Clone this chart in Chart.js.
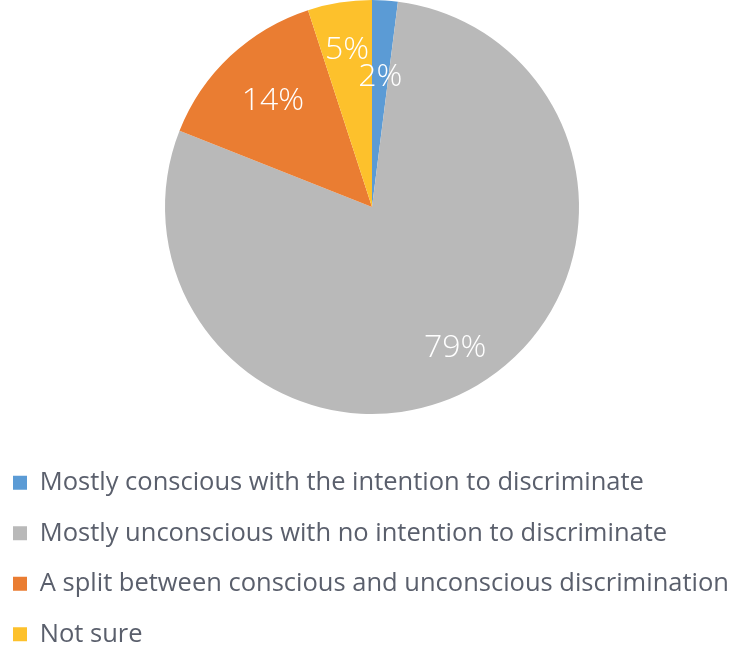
<!DOCTYPE html>
<html>
<head>
<meta charset="utf-8">
<script src="https://cdn.jsdelivr.net/npm/chart.js@4.4.0/dist/chart.umd.min.js"></script>
<style>
  html, body { margin: 0; padding: 0; background: #ffffff; }
  #wrap { width: 744px; height: 654px; }
</style>
</head>
<body>
<div id="wrap"><canvas id="pieChart"></canvas></div>
<script>
// Survey answers and their shares (%)
const categories = [
    "Mostly conscious with the intention to discriminate",
    "Mostly unconscious with no intention to discriminate",
    "A split between conscious and unconscious discrimination",
    "Not sure"
];
const shares = [2, 79, 14, 5];
const sliceColors = ["#5b9bd5", "#b9b9b9", "#ea7d32", "#fdc12c"];
// how far out (fraction of radius) each percent label sits
const labelRadius = [0.63, 0.79, 0.7, 0.77];

// Draw the percent labels inside the slices
const percentLabels = {
    id: "percentLabels",
    afterDatasetsDraw(chart) {
        const ctx = chart.ctx;
        const meta = chart.getDatasetMeta(0);
        ctx.save();
        ctx.font = "300 32px 'Open Sans'";
        ctx.fillStyle = "#ffffff";
        ctx.textAlign = "center";
        ctx.textBaseline = "middle";
        meta.data.forEach((arc, i) => {
            const p = arc.getProps(["x", "y", "startAngle", "endAngle", "outerRadius"], true);
            const mid = (p.startAngle + p.endAngle) / 2;
            const r = p.outerRadius * labelRadius[i];
            ctx.fillText(shares[i] + "%", p.x + Math.cos(mid) * r, p.y + Math.sin(mid) * r);
        });
        ctx.restore();
    }
};

new Chart(document.getElementById("pieChart").getContext("2d"), {
    type: "pie",
    data: {
        labels: categories,
        datasets: [{
            data: shares,
            backgroundColor: sliceColors,
            borderWidth: 0
        }]
    },
    options: {
        responsive: true,
        maintainAspectRatio: false,
        animation: false,
        layout: { padding: { top: 0, left: -12, right: -8, bottom: -3 } },
        plugins: {
            tooltip: { enabled: false },
            legend: {
                position: "bottom",
                align: "start",
                // empty title only used as a spacer above the rows
                title: {
                    display: true,
                    text: "",
                    font: { size: 10, lineHeight: 1 },
                    padding: { top: 12, bottom: 9 }
                },
                labels: {
                    boxWidth: 14,
                    boxHeight: 14,
                    padding: 25,
                    color: "#5a5f6c",
                    font: { family: "'Open Sans'", size: 25.5 }
                }
            }
        }
    },
    plugins: [percentLabels]
});
</script>
</body>
</html>
